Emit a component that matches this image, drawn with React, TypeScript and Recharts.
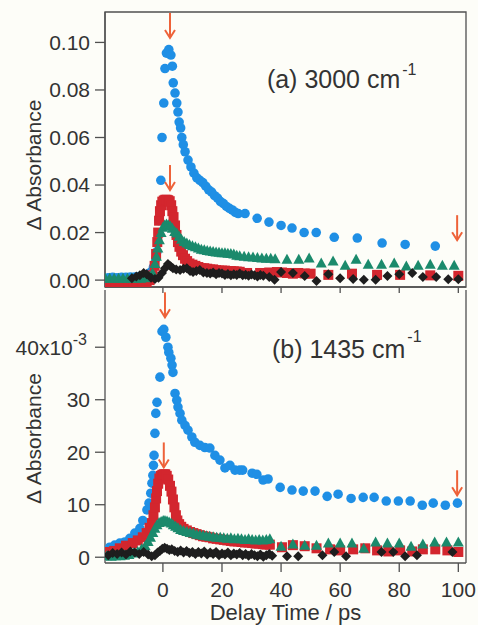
import React from 'react';
import { ScatterChart, Scatter, XAxis, YAxis, ReferenceArea, ReferenceLine, ReferenceDot } from 'recharts';

const FONT = '"Liberation Sans", Arial, Helvetica, sans-serif';
const BLUE = '#1f8fe5';
const RED = '#d3262e';
const GREEN = '#1b8a6c';
const BLACK = '#1e1e1e';
const ORANGE = '#ee6239';
const FRAME = '#505050';
const TEXT = '#333333';

type P = [number, number];

// shared x axis
const xTicks = [0, 20, 40, 60, 80, 100];
const xDomain: [number, number] = [-19.6, 102.6];

// panel (a) 3000 cm-1
const aYTicks = [0, 0.02, 0.04, 0.06, 0.08, 0.1];
const aDomain: [number, number] = [-0.0029, 0.1128];

// panel (b) 1435 cm-1 (units of 1e-3)
const bYTicks = [0, 10, 20, 30, 40];
const bDomain: [number, number] = [-1.1, 50.9];

const aBlue: P[] = [
  [-18.5, 0.001], [-17, 0.0012], [-15.5, 0.001], [-14, 0.0012], [-12.5, 0.0012], [-11, 0.0013],
  [-9.5, 0.0013], [-8, 0.0015], [-6.5, 0.0018], [-5, 0.0025], [-4, 0.0035], [-3.2, 0.0055],
  [-2.4, 0.009], [-2, 0.012], [-1.4, 0.025], [-0.7, 0.042], [-0.3, 0.06], [0.3, 0.0745],
  [0.7, 0.089], [1.2, 0.0955], [2.0, 0.097], [2.7, 0.0947], [3.2, 0.09], [3.5, 0.083],
  [4.1, 0.0787], [4.7, 0.0745], [5.1, 0.0707], [5.5, 0.0665], [6.0, 0.064], [6.4, 0.06],
  [6.9, 0.057], [7.5, 0.054], [8.5, 0.0505], [9.5, 0.0476], [10.5, 0.045], [11.5, 0.043],
  [12.5, 0.042], [13.5, 0.041], [14.5, 0.0395], [15.5, 0.038], [16.5, 0.037], [17.5, 0.0355],
  [18.5, 0.0345], [19.5, 0.033], [20.5, 0.0322], [21.5, 0.031], [22.5, 0.0302], [23.5, 0.0295],
  [24.5, 0.0285], [25.5, 0.028], [27.8, 0.028], [31.9, 0.026], [35.9, 0.0244], [40, 0.023],
  [43.7, 0.0219], [47.8, 0.02], [51.9, 0.02], [58, 0.018], [65.8, 0.0177], [74.2, 0.0156],
  [82, 0.015], [92.2, 0.0143],
];

const aRed: P[] = [
  [-19, -0.0015], [-17.5, -0.0015], [-16, -0.0015], [-14.5, -0.0015], [-13, -0.0015], [-11.5, -0.0015],
  [-10, -0.0012], [-8.5, -0.0012], [-7, -0.001], [-5.5, -0.0008], [-4.5, 0], [-3.5, 0.002],
  [-2.8, 0.006], [-2.3, 0.011], [-1.9, 0.016], [-1.6, 0.02], [-1.3, 0.025], [-1, 0.029],
  [-0.6, 0.0315], [-0.2, 0.033], [0.3, 0.0335], [0.8, 0.0338], [1.3, 0.0338], [1.8, 0.0336],
  [2.3, 0.0332], [2.8, 0.0315], [3.2, 0.029], [3.6, 0.0265], [4.1, 0.023], [4.6, 0.019],
  [5.1, 0.016], [5.6, 0.014], [6.2, 0.012], [6.8, 0.0105], [7.5, 0.009], [8.2, 0.008],
  [9, 0.007], [10, 0.0065], [11, 0.006], [12, 0.0055], [13, 0.005], [14, 0.005],
  [15, 0.0048], [16, 0.0045], [17, 0.0045], [18, 0.0042], [19, 0.004], [20, 0.004],
  [21, 0.004], [22, 0.0038], [23, 0.0038], [24, 0.0037], [25, 0.0036], [26, 0.0035],
  [28.5, 0.003], [32.9, 0.003], [36, 0.0032], [38.6, 0.0034], [40.3, 0.0032], [42, 0.003],
  [44, 0.0027], [45.8, 0.003], [48, 0.0028], [50, 0.0027], [56, 0.0022], [64, 0.0027],
  [72.5, 0.0022], [80.3, 0.0022], [90.5, 0.002], [100, 0.0018],
];

const aGreen: P[] = [
  [-19.5, 0.0008], [-18, 0.0008], [-16.5, 0.0008], [-15, 0.0008], [-13.5, 0.0008], [-12, 0.0008],
  [-10.5, 0.0008], [-9, 0.0008], [-7.5, 0.0008], [-6, 0.001], [-4.5, 0.0015], [-3.5, 0.003],
  [-2.7, 0.007], [-2.2, 0.01], [-1.7, 0.0135], [-1.2, 0.017], [-0.6, 0.02], [0, 0.0222],
  [0.6, 0.0232], [1.2, 0.0236], [1.8, 0.0233], [2.5, 0.0228], [3.2, 0.0218], [4, 0.0205],
  [4.7, 0.0198], [5.5, 0.0185], [6.3, 0.0172], [7.2, 0.0162], [8.1, 0.0156], [9, 0.015],
  [10, 0.0145], [11, 0.014], [12, 0.0135], [13, 0.013], [14, 0.0128], [15, 0.0125],
  [16, 0.0122], [17, 0.012], [18, 0.0118], [19, 0.0117], [20, 0.0115], [21, 0.0115],
  [22, 0.0113], [23, 0.0112], [24, 0.011], [25, 0.0105], [26, 0.0102], [27.5, 0.01],
  [29, 0.0098], [30.5, 0.0097], [32, 0.0095], [33.5, 0.0093], [35, 0.0092], [36.5, 0.0092],
  [38, 0.009], [42, 0.0088], [46, 0.0088], [49.5, 0.0093], [53.6, 0.0072], [57.6, 0.008],
  [61.7, 0.0063], [65.4, 0.0088], [69.5, 0.0067], [74, 0.0067], [78.3, 0.0072], [82.4, 0.0059],
  [86.4, 0.0063], [90.5, 0.0067], [94.6, 0.0063], [98.6, 0.0063],
];

const aBlack: P[] = [
  [-10.5, 0.0008], [-9, 0.0015], [-7.8, 0.002], [-6.5, 0.003], [-5.5, 0.0025], [-4, 0.001],
  [-2.7, 0.0005], [-1.5, 0.001], [-0.3, 0.003], [0.7, 0.005], [1.7, 0.0068], [2.6, 0.0058],
  [3.4, 0.005], [4.5, 0.0045], [5.8, 0.0042], [7, 0.0048], [8.1, 0.005], [9.2, 0.0038],
  [10.2, 0.0034], [11.3, 0.0038], [12.5, 0.0042], [13.7, 0.0032], [14.9, 0.003], [16, 0.0028],
  [17, 0.0032], [18, 0.0025], [19, 0.003], [20, 0.0028], [21, 0.0022], [22, 0.0026],
  [23, 0.002], [24, 0.0025], [25, 0.0022], [26, 0.0028], [27, 0.002], [28, 0.0023],
  [29, 0.0018], [30, 0.0024], [31, 0.002], [32, 0.0015], [33, 0.0022], [34, 0.0018],
  [36, 0.0013], [37.8, 0.0002], [40, 0.0034], [44, 0.003], [48, 0.0017], [52, -0.0004],
  [56, 0.0025], [60, 0.0008], [64.4, 0.0005], [68, 0.0001], [72, 0.0002], [76, 0.0017],
  [80, 0.0025], [84.4, 0.003], [88, 0.0013], [92.5, 0.0013], [96.6, 0.0004], [100, 0.0004],
];

const bBlue: P[] = [
  [-18, 1.9], [-16.3, 2.3], [-14.6, 2.7], [-12.9, 2.9], [-11.2, 3.6], [-9.5, 4.6],
  [-7.8, 5.5], [-6.8, 7.0], [-5.4, 9.0], [-4.7, 10.3], [-4.1, 12.2], [-3.7, 14.1],
  [-3.4, 15.6], [-3.2, 17.5], [-3.0, 19.4], [-2.7, 23.6], [-2.4, 27.4], [-2.0, 29.5],
  [-1.0, 34.3], [-0.3, 43.0], [0.3, 43.4], [1.0, 41.9], [1.7, 40], [2.0, 39],
  [2.7, 37.9], [3.1, 36.6], [3.4, 35.2], [4.1, 31.2], [4.7, 29.9], [5.1, 28.6],
  [5.8, 27.4], [6.4, 26.1], [7.5, 25.1], [8.5, 24.2], [9.8, 22.9], [10.8, 21.9],
  [12.5, 21.3], [14.2, 20.9], [15.9, 20.8], [17.6, 19.4], [19.3, 18.5], [21, 17],
  [22.7, 17.5], [24.4, 16.6], [26, 16.6], [27, 16.6], [30.2, 16], [31.8, 15.8],
  [33.9, 14.7], [35.6, 14.9], [39.7, 13.3], [43.7, 12.8], [47.5, 12.6], [51.5, 12.6],
  [55.6, 11.6], [59.3, 12], [63.7, 11.2], [67.8, 11.4], [71.5, 11.4], [75.6, 10.7],
  [79.7, 10.7], [83.7, 10.7], [87.8, 9.9], [91.5, 10.3], [95.6, 9.9], [99.7, 10.3],
];

const bRed: P[] = [
  [-19, 0.8], [-18, 1.0], [-16.5, 1.2], [-14.6, 1.7], [-12.5, 2.2], [-10.2, 2.7],
  [-8.5, 3.2], [-6.8, 3.8], [-5.5, 4.6], [-4.5, 5.6], [-3.7, 6.5], [-3.2, 8],
  [-2.7, 9.5], [-2.3, 11.2], [-2.0, 12.6], [-1.6, 14.0], [-1.2, 15.0], [-0.7, 15.5],
  [-0.2, 15.7], [0.3, 15.8], [0.8, 15.8], [1.3, 15.5], [1.8, 14.8], [2.4, 13.6],
  [2.9, 12.5], [3.4, 11], [3.9, 9.5], [4.4, 8], [4.9, 7], [5.5, 6.3],
  [6.2, 5.8], [7, 5.4], [8.1, 5.1], [9.2, 4.8], [10.3, 4.6], [11.4, 4.4],
  [12.5, 4.2], [13.6, 4.0], [14.7, 3.9], [15.8, 3.8], [17, 3.6], [18.2, 3.5],
  [19.4, 3.4], [20.6, 3.3], [21.8, 3.2], [23, 3.1], [24.2, 3.0], [25.4, 3.0],
  [26.6, 2.9], [27.8, 2.8], [29, 2.8], [30.2, 2.7], [31.4, 2.6], [32.6, 2.6],
  [33.8, 2.5], [35, 2.4], [36.2, 2.4], [40.3, 1.9], [44, 2.3], [48, 2.1],
  [52, 1.7], [56.6, 1.5], [60, 1.3], [64.4, 1.5], [68.5, 1.7], [72.5, 1.3],
  [76.3, 1.1], [80.3, 1.3], [84.4, 1.1], [88, 1.5], [92.2, 1.5], [96.3, 1.3], [100, 1.0],
];

const bGreen: P[] = [
  [-19, 0.3], [-17.5, 0.2], [-16, 0.3], [-14.5, 0.3], [-13, 0.4], [-11.5, 0.5],
  [-10, 0.8], [-8.5, 1.1], [-7.2, 1.6], [-6, 2.2], [-5, 3], [-4.2, 3.8],
  [-3.4, 4.7], [-2.7, 5.5], [-2.0, 6.2], [-1.3, 6.6], [-0.6, 6.8], [0.1, 7.0],
  [0.7, 7.0], [1.4, 6.9], [2.1, 6.7], [2.8, 6.5], [3.5, 6.2], [4.3, 5.9],
  [5.1, 5.6], [6, 5.3], [7, 5.1], [8.1, 4.9], [9.2, 4.7], [10.3, 4.6],
  [11.4, 4.4], [12.5, 4.3], [13.6, 4.2], [14.7, 4.1], [15.8, 4.0], [17, 3.9],
  [18.2, 3.8], [19.4, 3.8], [20.6, 3.7], [21.8, 3.6], [23, 3.7], [24.2, 3.5],
  [25.4, 3.6], [26.6, 3.5], [27.8, 3.4], [29, 3.5], [30.2, 3.4], [31.4, 3.3],
  [32.6, 3.4], [33.8, 3.3], [35, 3.4], [36.2, 3.5], [40, 2.1], [44, 2.5],
  [48, 2.3], [52, 2.3], [56, 2.7], [60, 2.7], [64, 2.7], [68, 1.7],
  [72, 2.9], [76, 2.7], [80, 2.7], [84, 2.1], [88, 2.5], [92, 2.9], [96, 2.9], [100, 2.9],
];

const bBlack: P[] = [
  [-18.5, 0.4], [-17, 0.8], [-15.5, 0.6], [-14, 0.9], [-12.5, 0.5], [-11, 1.1],
  [-9.5, 0.9], [-8, 0.6], [-6.5, 1.0], [-5, 0.5], [-3.8, 0.2], [-2.7, 0.4],
  [-1.8, 0.9], [-1, 1.2], [-0.2, 1.6], [0.6, 1.8], [1.4, 1.6], [2.2, 1.4],
  [3, 1.5], [4, 1.2], [5, 1.0], [6, 1.3], [7, 0.9], [8, 1.2],
  [9, 0.8], [10, 1.0], [11, 0.6], [12, 1.0], [13, 0.7], [14, 1.1],
  [15, 0.5], [16, 0.9], [17, 0.6], [18, 1.0], [19, 0.4], [20, 0.7],
  [21, 0.5], [22, 0.9], [23, 0.4], [24, 0.7], [25, 0.5], [26, 0.8],
  [27, 0.4], [28, 0.6], [29, 0.3], [30, 0.6], [31, 0.4], [32, 0.2],
  [33, 0.5], [34, 0.1], [35, 0.4], [36, 0.6], [37, 0.3], [42, 0.2],
  [45.8, 0.2], [54, 0.4], [58, 1.0], [62, 0.2], [74, 1.0], [78, 1.0],
  [82, 0.2], [86, 0.4], [98, 1.0],
];

// arrow tips
const aArrows: P[] = [[2.4, 0.1019], [2.4, 0.0379], [99.6, 0.0168]];
const bArrows: P[] = [[0.7, 45.7], [0.3, 17.1], [99.6, 11.8]];

// annotation anchors (text start, baseline)
const aNote: P = [35.2, 0.0809];
const bNote: P = [36.9, 37.9];

const toPts = (a: P[]) => a.map(([x, y]) => ({ x, y }));

const Circle = (p: any) => <circle cx={p.cx} cy={p.cy} r={4.8} fill={BLUE} />;
const Square = (p: any) => <rect x={p.cx - 5} y={p.cy - 5} width={10} height={10} fill={RED} />;
const Tri = (p: any) => (
  <path d={`M${p.cx},${p.cy - 5.5}L${p.cx + 5.5},${p.cy + 4.5}L${p.cx - 5.5},${p.cy + 4.5}Z`} fill={GREEN} />
);
const Diamond = (p: any) => (
  <path d={`M${p.cx},${p.cy - 5}L${p.cx + 5},${p.cy}L${p.cx},${p.cy + 5}L${p.cx - 5},${p.cy}Z`} fill={BLACK} />
);
const Arrow = (p: any) => (
  <g stroke={ORANGE} strokeWidth={2} fill="none">
    <line x1={p.cx} y1={p.cy - 25} x2={p.cx} y2={p.cy} />
    <polyline points={`${p.cx - 5},${p.cy - 8} ${p.cx},${p.cy} ${p.cx + 5},${p.cy - 8}`} />
  </g>
);

const note = (main: string, sup: string, supDy: number) => (p: any) => (
  <text x={p.cx} y={p.cy} fill={TEXT} fontFamily={FONT} fontSize={25}>
    <tspan>{main}</tspan>
    <tspan dx={2} dy={supDy} fontSize={16}>{sup}</tspan>
  </text>
);

const yLabel = (dy: number) => (props: any) => {
  const vb = props.viewBox || { x: 0, y: 0, width: 105, height: 275 };
  const cx = vb.x + 41;
  const cy = vb.y + vb.height / 2 + dy;
  return (
    <text x={cx} y={cy} transform={`rotate(-90 ${cx} ${cy})`} textAnchor="middle" fill={TEXT} fontFamily={FONT} fontSize={21}>
      Δ Absorbance
    </text>
  );
};

const tickStyle = { fill: TEXT, fontSize: 21, fontFamily: FONT };

const BTick = (p: any) => {
  const v = p.payload.value;
  if (v === 40) {
    return (
      <text x={p.x - 3} y={p.y} dy="0.36em" textAnchor="end" fill={TEXT} fontFamily={FONT} fontSize={21}>
        <tspan>40x10</tspan>
        <tspan dy={-10} fontSize={16}>-3</tspan>
      </text>
    );
  }
  return (
    <text x={p.x} y={p.y} dy="0.36em" textAnchor="end" fill={TEXT} fontFamily={FONT} fontSize={21}>
      {String(v)}
    </text>
  );
};

const NoTick = () => <g />;

export default function App() {
  return (
    <div style={{ position: 'absolute', left: 0, top: 0, width: 478, height: 625, background: '#fdfdf8', overflow: 'hidden' }}>
      <div style={{ position: 'absolute', left: 0, top: 0 }}>
        <ScatterChart width={478} height={300} margin={{ top: 12, right: 12, bottom: 0, left: 0 }}>
          <XAxis
            type="number" dataKey="x" domain={xDomain} ticks={xTicks} allowDataOverflow
            height={13} tickSize={6} tick={NoTick}
            axisLine={{ stroke: FRAME, strokeWidth: 1.3 }} tickLine={{ stroke: FRAME, strokeWidth: 1.3 }}
          />
          <YAxis
            type="number" dataKey="y" domain={aDomain} ticks={aYTicks} allowDataOverflow
            width={105} tickSize={10} tickMargin={5} tick={tickStyle}
            tickFormatter={(v: number) => v.toFixed(2)}
            axisLine={{ stroke: FRAME, strokeWidth: 1.3 }} tickLine={{ stroke: FRAME, strokeWidth: 1.3 }}
            label={{ content: yLabel(15.5) }}
          />
          <ReferenceArea x1={xDomain[0]} x2={xDomain[1]} y1={aDomain[0]} y2={aDomain[1]} fill="none" stroke={FRAME} strokeWidth={1.3} ifOverflow="visible" />
          <Scatter data={toPts(aBlue)} shape={Circle} isAnimationActive={false} />
          <Scatter data={toPts(aRed)} shape={Square} isAnimationActive={false} />
          <Scatter data={toPts(aGreen)} shape={Tri} isAnimationActive={false} />
          <Scatter data={toPts(aBlack)} shape={Diamond} isAnimationActive={false} />
          {aArrows.map(([x, y], i) => (
            <ReferenceDot key={'aa' + i} x={x} y={y} r={0} shape={Arrow} ifOverflow="visible" />
          ))}
          <ReferenceDot x={aNote[0]} y={aNote[1]} r={0} shape={note('(a) 3000 cm', '-1', -13)} ifOverflow="visible" />
        </ScatterChart>
      </div>
      <div style={{ position: 'absolute', left: 0, top: 288 }}>
        <ScatterChart width={478} height={337} margin={{ top: 2, right: 12, bottom: 0, left: 0 }}>
          <XAxis
            type="number" dataKey="x" domain={xDomain} ticks={xTicks} allowDataOverflow
            height={62} tickSize={9} tickMargin={10} tick={tickStyle}
            axisLine={{ stroke: FRAME, strokeWidth: 1.3 }} tickLine={{ stroke: FRAME, strokeWidth: 1.3 }}
            label={{ value: 'Delay Time / ps', position: 'insideBottom', offset: 5, fill: TEXT, fontSize: 22, fontFamily: FONT }}
          />
          <YAxis
            type="number" dataKey="y" domain={bDomain} ticks={bYTicks} allowDataOverflow
            width={105} tickSize={10} tickMargin={5} tick={BTick}
            axisLine={{ stroke: FRAME, strokeWidth: 1.3 }} tickLine={{ stroke: FRAME, strokeWidth: 1.3 }}
            label={{ content: yLabel(12) }}
          />
          <ReferenceLine x={xDomain[1]} stroke={FRAME} strokeWidth={1.3} ifOverflow="visible" />
          <Scatter data={toPts(bBlue)} shape={Circle} isAnimationActive={false} />
          <Scatter data={toPts(bRed)} shape={Square} isAnimationActive={false} />
          <Scatter data={toPts(bGreen)} shape={Tri} isAnimationActive={false} />
          <Scatter data={toPts(bBlack)} shape={Diamond} isAnimationActive={false} />
          {bArrows.map(([x, y], i) => (
            <ReferenceDot key={'ba' + i} x={x} y={y} r={0} shape={Arrow} ifOverflow="visible" />
          ))}
          <ReferenceDot x={bNote[0]} y={bNote[1]} r={0} shape={note('(b) 1435 cm', '-1', -16)} ifOverflow="visible" />
        </ScatterChart>
      </div>
    </div>
  );
}
